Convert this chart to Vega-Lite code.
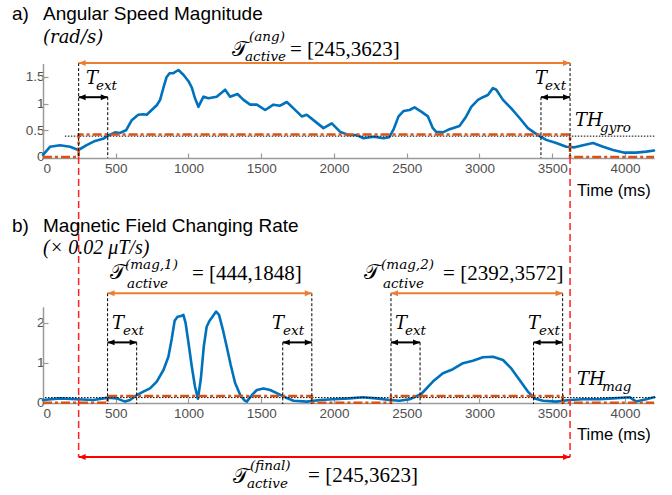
{
  "$schema": "https://vega.github.io/schema/vega-lite/v6.json",
  "width": 672,
  "height": 495,
  "autosize": "none",
  "padding": 0,
  "background": "white",
  "config": {
    "view": {"stroke": null},
    "axis": {"grid": false, "domainColor": "#9a9a9a", "tickColor": "#9a9a9a", "labelColor": "#505050", "labelFont": "Liberation Sans", "labelFontSize": 13.5, "domainWidth": 1.5, "tickWidth": 1.2}
  },
  "datasets": {
    "sigA": [
      {"t":0,"v":0.04},{"t":48,"v":0.19},{"t":117,"v":0.22},{"t":186,"v":0.19},{"t":243,"v":0.13},{"t":300,"v":0.22},{"t":358,"v":0.30},{"t":413,"v":0.34},{"t":454,"v":0.41},{"t":495,"v":0.46},{"t":530,"v":0.45},{"t":571,"v":0.50},{"t":610,"v":0.69},{"t":655,"v":0.79},{"t":690,"v":0.80},{"t":713,"v":0.79},{"t":747,"v":0.88},{"t":782,"v":0.97},{"t":805,"v":1.07},{"t":828,"v":1.30},{"t":850,"v":1.50},{"t":870,"v":1.57},{"t":896,"v":1.57},{"t":931,"v":1.63},{"t":965,"v":1.54},{"t":1000,"v":1.42},{"t":1023,"v":1.30},{"t":1045,"v":1.10},{"t":1068,"v":0.94},{"t":1103,"v":1.13},{"t":1137,"v":1.10},{"t":1194,"v":1.13},{"t":1252,"v":1.26},{"t":1286,"v":1.13},{"t":1337,"v":1.18},{"t":1378,"v":1.07},{"t":1424,"v":0.98},{"t":1470,"v":0.98},{"t":1527,"v":0.88},{"t":1584,"v":0.98},{"t":1630,"v":0.96},{"t":1676,"v":1.03},{"t":1722,"v":0.91},{"t":1779,"v":0.76},{"t":1813,"v":0.79},{"t":1859,"v":0.69},{"t":1928,"v":0.54},{"t":1985,"v":0.63},{"t":2043,"v":0.47},{"t":2100,"v":0.41},{"t":2158,"v":0.41},{"t":2203,"v":0.35},{"t":2272,"v":0.38},{"t":2340,"v":0.35},{"t":2380,"v":0.37},{"t":2409,"v":0.51},{"t":2444,"v":0.76},{"t":2478,"v":0.86},{"t":2520,"v":0.88},{"t":2554,"v":0.93},{"t":2600,"v":0.85},{"t":2646,"v":0.76},{"t":2680,"v":0.54},{"t":2703,"v":0.47},{"t":2749,"v":0.46},{"t":2795,"v":0.52},{"t":2863,"v":0.58},{"t":2909,"v":0.76},{"t":2944,"v":0.94},{"t":2990,"v":1.07},{"t":3024,"v":1.12},{"t":3058,"v":1.16},{"t":3093,"v":1.29},{"t":3116,"v":1.26},{"t":3162,"v":1.07},{"t":3219,"v":0.91},{"t":3276,"v":0.73},{"t":3333,"v":0.54},{"t":3402,"v":0.41},{"t":3459,"v":0.32},{"t":3528,"v":0.26},{"t":3597,"v":0.19},{"t":3654,"v":0.18},{"t":3712,"v":0.22},{"t":3781,"v":0.26},{"t":3850,"v":0.19},{"t":3918,"v":0.13},{"t":3998,"v":0.08},{"t":4078,"v":0.08},{"t":4147,"v":0.10},{"t":4200,"v":0.12}
    ],
    "sigB": [
      {"t":0,"v":0.07},{"t":117,"v":0.11},{"t":232,"v":0.09},{"t":346,"v":0.07},{"t":449,"v":0.13},{"t":507,"v":0.11},{"t":564,"v":0.03},{"t":598,"v":0.07},{"t":644,"v":0.19},{"t":690,"v":0.28},{"t":736,"v":0.36},{"t":782,"v":0.53},{"t":828,"v":0.82},{"t":862,"v":1.15},{"t":885,"v":1.6},{"t":905,"v":2.05},{"t":925,"v":2.15},{"t":950,"v":2.17},{"t":965,"v":2.2},{"t":980,"v":2.0},{"t":1000,"v":1.5},{"t":1023,"v":0.9},{"t":1045,"v":0.4},{"t":1065,"v":0.1},{"t":1085,"v":0.6},{"t":1105,"v":1.4},{"t":1125,"v":1.9},{"t":1145,"v":2.05},{"t":1165,"v":2.15},{"t":1190,"v":2.28},{"t":1210,"v":2.2},{"t":1235,"v":1.85},{"t":1260,"v":1.45},{"t":1290,"v":0.95},{"t":1320,"v":0.5},{"t":1355,"v":0.2},{"t":1385,"v":0.06},{"t":1401,"v":0.03},{"t":1435,"v":0.19},{"t":1470,"v":0.32},{"t":1515,"v":0.36},{"t":1561,"v":0.32},{"t":1607,"v":0.24},{"t":1664,"v":0.14},{"t":1722,"v":0.05},{"t":1813,"v":0.03},{"t":1905,"v":0.07},{"t":1995,"v":0.09},{"t":2107,"v":0.11},{"t":2199,"v":0.14},{"t":2290,"v":0.11},{"t":2382,"v":0.07},{"t":2451,"v":0.05},{"t":2520,"v":0.09},{"t":2600,"v":0.22},{"t":2680,"v":0.53},{"t":2749,"v":0.74},{"t":2818,"v":0.84},{"t":2887,"v":0.99},{"t":2955,"v":1.05},{"t":3024,"v":1.14},{"t":3093,"v":1.15},{"t":3162,"v":1.07},{"t":3219,"v":0.86},{"t":3276,"v":0.57},{"t":3333,"v":0.28},{"t":3379,"v":0.11},{"t":3437,"v":0.05},{"t":3528,"v":0.03},{"t":3620,"v":0.07},{"t":3712,"v":0.09},{"t":3826,"v":0.09},{"t":3918,"v":0.11},{"t":4032,"v":0.14},{"t":4078,"v":0.03},{"t":4147,"v":0.09},{"t":4200,"v":0.14}
    ],
    "stepA": [{"t":0,"v":0},{"t":245,"v":0.42},{"t":3623,"v":0},{"t":4200,"v":0}],
    "stepB": [{"t":0,"v":0},{"t":444,"v":0.17},{"t":1848,"v":0},{"t":2392,"v":0.17},{"t":3572,"v":0},{"t":4200,"v":0}],
    "thrA": [{"t":150,"t2":4210,"v":0.39}],
    "thrB": [{"t":14,"t2":4210,"v":0.13}],
    "arrA": [
      {"t":245,"t2":3623,"v":1.76,"kind":"active"},
      {"t":245,"t2":445,"v":1.12,"kind":"ext"},
      {"t":3423,"t2":3623,"v":1.12,"kind":"ext"}
    ],
    "arrB": [
      {"t":444,"t2":1848,"v":2.74,"kind":"active"},
      {"t":2392,"t2":3572,"v":2.74,"kind":"active"},
      {"t":444,"t2":644,"v":1.51,"kind":"ext"},
      {"t":1648,"t2":1848,"v":1.51,"kind":"ext"},
      {"t":2392,"t2":2592,"v":1.51,"kind":"ext"},
      {"t":3372,"t2":3572,"v":1.51,"kind":"ext"},
      {"t":245,"t2":3623,"v":-1.355,"kind":"final"}
    ],
    "vA": [
      {"t":245,"v":1.76,"v2":-0.02},{"t":445,"v":1.12,"v2":-0.02},{"t":3423,"v":1.12,"v2":-0.02},{"t":3623,"v":1.76,"v2":-0.02}
    ],
    "vB": [
      {"t":444,"v":2.74,"v2":-0.03},{"t":1848,"v":2.74,"v2":-0.03},{"t":644,"v":1.51,"v2":-0.03},{"t":1648,"v":1.51,"v2":-0.03},
      {"t":2392,"v":2.74,"v2":-0.03},{"t":3572,"v":2.74,"v2":-0.03},{"t":2592,"v":1.51,"v2":-0.03},{"t":3372,"v":1.51,"v2":-0.03}
    ],
    "redB": [{"t":245,"v":6.145,"v2":-1.355},{"t":3623,"v":6.145,"v2":-1.355}],
    "textA": [
      {"k":"title","t":-213,"v":2.68,"s":"a)"},
      {"k":"title","t":0,"v":2.68,"s":"Angular Speed Magnitude"},
      {"k":"unit","t":0,"v":2.23,"s":"(rad/s)"},
      {"k":"time","t":3671,"v":-0.63,"s":"Time (ms)"},
      {"k":"script","t":1299,"v":2.01,"s":"𝒯"},
      {"k":"small","t":1416,"v":2.25,"s":"(ang)"},
      {"k":"small","t":1389,"v":1.87,"s":"active"},
      {"k":"rest","t":1698,"v":2.005,"s":"= [245,3623]"},
      {"k":"big","t":296,"v":1.461,"s":"T"},
      {"k":"small","t":364,"v":1.33,"s":"ext"},
      {"k":"big","t":3382,"v":1.461,"s":"T"},
      {"k":"small","t":3451,"v":1.33,"s":"ext"},
      {"k":"big","t":3657,"v":0.674,"s":"TH"},
      {"k":"small","t":3829,"v":0.5425,"s":"gyro"}
    ],
    "textB": [
      {"k":"title","t":-213,"v":4.42,"s":"b)"},
      {"k":"title","t":0,"v":4.42,"s":"Magnetic Field Changing Rate"},
      {"k":"unit2","t":0,"v":3.87,"s":"(× 0.02 μT/s)"},
      {"k":"time","t":3671,"v":-0.8,"s":"Time (ms)"},
      {"k":"script","t":461,"v":3.245,"s":"𝒯"},
      {"k":"small","t":564,"v":3.445,"s":"(mag,1)"},
      {"k":"small","t":578,"v":2.96,"s":"active"},
      {"k":"rest","t":1024,"v":3.22,"s":"= [444,1848]"},
      {"k":"script","t":2207,"v":3.245,"s":"𝒯"},
      {"k":"small","t":2324,"v":3.445,"s":"(mag,2)"},
      {"k":"small","t":2337,"v":2.96,"s":"active"},
      {"k":"rest","t":2750,"v":3.22,"s":"= [2392,3572]"},
      {"k":"script","t":1306,"v":-1.855,"s":"𝒯"},
      {"k":"small","t":1423,"v":-1.58,"s":"(final)"},
      {"k":"small","t":1402,"v":-2.04,"s":"active"},
      {"k":"rest","t":1822,"v":-1.83,"s":"= [245,3623]"},
      {"k":"big","t":474,"v":1.97,"s":"T"},
      {"k":"small","t":550,"v":1.795,"s":"ext"},
      {"k":"big","t":1574,"v":1.97,"s":"T"},
      {"k":"small","t":1650,"v":1.795,"s":"ext"},
      {"k":"big","t":2420,"v":1.97,"s":"T"},
      {"k":"small","t":2488,"v":1.795,"s":"ext"},
      {"k":"big","t":3334,"v":1.97,"s":"T"},
      {"k":"small","t":3409,"v":1.795,"s":"ext"},
      {"k":"big","t":3671,"v":0.57,"s":"TH"},
      {"k":"small","t":3842,"v":0.395,"s":"mag"}
    ]
  },
  "layer": [
    {
      "data": {"name": "sigA"},
      "mark": {"type": "line", "color": "#0072BD", "strokeWidth": 2.6, "strokeJoin": "round", "strokeCap": "round"},
      "encoding": {
        "x": {"field": "t", "type": "quantitative", "scale": {"domain": [0, 4200], "range": [43, 654], "nice": false, "zero": false},
          "axis": {"orient": "bottom", "offset": -337, "values": [0,500,1000,1500,2000,2500,3000,3500,4000], "format": "d", "title": null, "tickSize": -5, "labelPadding": 8}},
        "y": {"field": "v", "type": "quantitative", "scale": {"domain": [-0.02, 1.75], "range": [158, 63.6], "nice": false, "zero": false},
          "axis": {"orient": "left", "offset": -43, "values": [0, 0.5, 1, 1.5], "format": "~g", "title": null, "tickSize": -5, "labelPadding": 4}}
      }
    },
    {
      "data": {"name": "sigB"},
      "mark": {"type": "line", "color": "#0072BD", "strokeWidth": 2.6, "strokeJoin": "round", "strokeCap": "round"},
      "encoding": {
        "x": {"field": "t", "type": "quantitative", "scale": {"domain": [0, 4200], "range": [43, 654], "nice": false, "zero": false},
          "axis": {"orient": "bottom", "offset": -92, "values": [0,500,1000,1500,2000,2500,3000,3500,4000], "format": "d", "title": null, "tickSize": -5, "labelPadding": 8}},
        "y": {"field": "v", "type": "quantitative", "scale": {"domain": [-0.03, 2.4], "range": [404, 306.8], "nice": false, "zero": false},
          "axis": {"orient": "left", "offset": -43, "values": [0, 1, 2], "format": "~g", "title": null, "tickSize": -5, "labelPadding": 4}}
      }
    },
    {
      "data": {"name": "thrA"},
      "mark": {"type": "rule", "color": "black", "strokeWidth": 1, "strokeDash": [1.5, 1.5]},
      "encoding": {
        "x": {"field": "t", "type": "quantitative", "scale": {"domain": [0, 4200], "range": [43, 654], "nice": false, "zero": false}, "axis": null},
        "x2": {"field": "t2"},
        "y": {"field": "v", "type": "quantitative", "scale": {"domain": [-0.02, 1.75], "range": [158, 63.6], "nice": false, "zero": false}, "axis": null}
      }
    },
    {
      "data": {"name": "thrB"},
      "mark": {"type": "rule", "color": "black", "strokeWidth": 1, "strokeDash": [1.5, 1.5]},
      "encoding": {
        "x": {"field": "t", "type": "quantitative", "scale": {"domain": [0, 4200], "range": [43, 654], "nice": false, "zero": false}, "axis": null},
        "x2": {"field": "t2"},
        "y": {"field": "v", "type": "quantitative", "scale": {"domain": [-0.03, 2.4], "range": [404, 306.8], "nice": false, "zero": false}, "axis": null}
      }
    },
    {
      "data": {"name": "stepA"},
      "mark": {"type": "line", "interpolate": "step-after", "color": "#D95319", "strokeWidth": 2.6, "strokeDash": [9, 3, 3, 3]},
      "encoding": {
        "x": {"field": "t", "type": "quantitative", "scale": {"domain": [0, 4200], "range": [43, 654], "nice": false, "zero": false}, "axis": null},
        "y": {"field": "v", "type": "quantitative", "scale": {"domain": [-0.02, 1.75], "range": [158, 63.6], "nice": false, "zero": false}, "axis": null}
      }
    },
    {
      "data": {"name": "stepB"},
      "mark": {"type": "line", "interpolate": "step-after", "color": "#D95319", "strokeWidth": 2.6, "strokeDash": [9, 3, 3, 3]},
      "encoding": {
        "x": {"field": "t", "type": "quantitative", "scale": {"domain": [0, 4200], "range": [43, 654], "nice": false, "zero": false}, "axis": null},
        "y": {"field": "v", "type": "quantitative", "scale": {"domain": [-0.03, 2.4], "range": [404, 306.8], "nice": false, "zero": false}, "axis": null}
      }
    },
    {
      "data": {"name": "vA"},
      "mark": {"type": "rule", "color": "black", "strokeWidth": 1, "strokeDash": [3, 2]},
      "encoding": {
        "x": {"field": "t", "type": "quantitative", "scale": {"domain": [0, 4200], "range": [43, 654], "nice": false, "zero": false}, "axis": null},
        "y": {"field": "v", "type": "quantitative", "scale": {"domain": [-0.02, 1.75], "range": [158, 63.6], "nice": false, "zero": false}, "axis": null},
        "y2": {"field": "v2"}
      }
    },
    {
      "data": {"name": "vB"},
      "mark": {"type": "rule", "color": "black", "strokeWidth": 1, "strokeDash": [3, 2]},
      "encoding": {
        "x": {"field": "t", "type": "quantitative", "scale": {"domain": [0, 4200], "range": [43, 654], "nice": false, "zero": false}, "axis": null},
        "y": {"field": "v", "type": "quantitative", "scale": {"domain": [-0.03, 2.4], "range": [404, 306.8], "nice": false, "zero": false}, "axis": null},
        "y2": {"field": "v2"}
      }
    },
    {
      "data": {"name": "redB"},
      "mark": {"type": "rule", "color": "#FF2020", "strokeWidth": 1.5, "strokeDash": [7, 4]},
      "encoding": {
        "x": {"field": "t", "type": "quantitative", "scale": {"domain": [0, 4200], "range": [43, 654], "nice": false, "zero": false}, "axis": null},
        "y": {"field": "v", "type": "quantitative", "scale": {"domain": [-0.03, 2.4], "range": [404, 306.8], "nice": false, "zero": false}, "axis": null},
        "y2": {"field": "v2"}
      }
    },
    {
      "data": {"name": "arrA"},
      "mark": {"type": "rule", "strokeWidth": 2},
      "encoding": {
        "x": {"field": "t", "type": "quantitative", "scale": {"domain": [0, 4200], "range": [43, 654], "nice": false, "zero": false}, "axis": null},
        "x2": {"field": "t2"},
        "y": {"field": "v", "type": "quantitative", "scale": {"domain": [-0.02, 1.75], "range": [158, 63.6], "nice": false, "zero": false}, "axis": null},
        "color": {"field": "kind", "type": "nominal", "scale": {"domain": ["ext", "active", "final"], "range": ["#000000", "#ED7D31", "#FF0000"]}, "legend": null}
      }
    },
    {
      "data": {"name": "arrB"},
      "mark": {"type": "rule", "strokeWidth": 2},
      "encoding": {
        "x": {"field": "t", "type": "quantitative", "scale": {"domain": [0, 4200], "range": [43, 654], "nice": false, "zero": false}, "axis": null},
        "x2": {"field": "t2"},
        "y": {"field": "v", "type": "quantitative", "scale": {"domain": [-0.03, 2.4], "range": [404, 306.8], "nice": false, "zero": false}, "axis": null},
        "color": {"field": "kind", "type": "nominal", "scale": {"domain": ["ext", "active", "final"], "range": ["#000000", "#ED7D31", "#FF0000"]}, "legend": null}
      }
    },
    {
      "data": {"name": "arrA"},
      "transform": [{"fold": ["t", "t2"], "as": ["end", "tx"]}],
      "mark": {"type": "point", "filled": true, "opacity": 1, "size": 49, "strokeWidth": 0},
      "encoding": {
        "x": {"field": "tx", "type": "quantitative", "scale": {"domain": [0, 4200], "range": [43, 654], "nice": false, "zero": false}, "axis": null},
        "y": {"field": "v", "type": "quantitative", "scale": {"domain": [-0.02, 1.75], "range": [158, 63.6], "nice": false, "zero": false}, "axis": null},
        "shape": {"field": "end", "type": "nominal", "scale": {"domain": ["t", "t2"], "range": ["M0,0L2,-0.85L2,0.85Z", "M0,0L-2,-0.85L-2,0.85Z"]}, "legend": null},
        "color": {"field": "kind", "type": "nominal", "scale": {"domain": ["ext", "active", "final"], "range": ["#000000", "#ED7D31", "#FF0000"]}, "legend": null}
      }
    },
    {
      "data": {"name": "arrB"},
      "transform": [{"fold": ["t", "t2"], "as": ["end", "tx"]}],
      "mark": {"type": "point", "filled": true, "opacity": 1, "size": 49, "strokeWidth": 0},
      "encoding": {
        "x": {"field": "tx", "type": "quantitative", "scale": {"domain": [0, 4200], "range": [43, 654], "nice": false, "zero": false}, "axis": null},
        "y": {"field": "v", "type": "quantitative", "scale": {"domain": [-0.03, 2.4], "range": [404, 306.8], "nice": false, "zero": false}, "axis": null},
        "shape": {"field": "end", "type": "nominal", "scale": {"domain": ["t", "t2"], "range": ["M0,0L2,-0.85L2,0.85Z", "M0,0L-2,-0.85L-2,0.85Z"]}, "legend": null},
        "color": {"field": "kind", "type": "nominal", "scale": {"domain": ["ext", "active", "final"], "range": ["#000000", "#ED7D31", "#FF0000"]}, "legend": null}
      }
    },
    {
      "data": {"name": "textA"},
      "transform": [{"filter": "datum.k === 'title'"}],
      "mark": {"type": "text", "align": "left", "baseline": "middle", "font": "Liberation Sans", "fontSize": 19, "color": "black"},
      "encoding": {
        "x": {"field": "t", "type": "quantitative", "scale": {"domain": [0, 4200], "range": [43, 654], "nice": false, "zero": false}, "axis": null},
        "y": {"field": "v", "type": "quantitative", "scale": {"domain": [-0.02, 1.75], "range": [158, 63.6], "nice": false, "zero": false}, "axis": null},
        "text": {"field": "s"}
      }
    },
    {
      "data": {"name": "textA"},
      "transform": [{"filter": "datum.k === 'time'"}],
      "mark": {"type": "text", "align": "left", "baseline": "middle", "font": "Liberation Sans", "fontSize": 16.5, "color": "black"},
      "encoding": {
        "x": {"field": "t", "type": "quantitative", "scale": {"domain": [0, 4200], "range": [43, 654], "nice": false, "zero": false}, "axis": null},
        "y": {"field": "v", "type": "quantitative", "scale": {"domain": [-0.02, 1.75], "range": [158, 63.6], "nice": false, "zero": false}, "axis": null},
        "text": {"field": "s"}
      }
    },
    {
      "data": {"name": "textA"},
      "transform": [{"filter": "datum.k === 'unit' || datum.k === 'big'"}],
      "mark": {"type": "text", "align": "left", "baseline": "middle", "font": "DejaVu Serif", "fontStyle": "italic", "fontSize": 18, "color": "black"},
      "encoding": {
        "x": {"field": "t", "type": "quantitative", "scale": {"domain": [0, 4200], "range": [43, 654], "nice": false, "zero": false}, "axis": null},
        "y": {"field": "v", "type": "quantitative", "scale": {"domain": [-0.02, 1.75], "range": [158, 63.6], "nice": false, "zero": false}, "axis": null},
        "text": {"field": "s"}
      }
    },
    {
      "data": {"name": "textA"},
      "transform": [{"filter": "datum.k === 'small'"}],
      "mark": {"type": "text", "align": "left", "baseline": "middle", "font": "DejaVu Serif", "fontStyle": "italic", "fontSize": 13.5, "color": "black"},
      "encoding": {
        "x": {"field": "t", "type": "quantitative", "scale": {"domain": [0, 4200], "range": [43, 654], "nice": false, "zero": false}, "axis": null},
        "y": {"field": "v", "type": "quantitative", "scale": {"domain": [-0.02, 1.75], "range": [158, 63.6], "nice": false, "zero": false}, "axis": null},
        "text": {"field": "s"}
      }
    },
    {
      "data": {"name": "textA"},
      "transform": [{"filter": "datum.k === 'script'"}],
      "mark": {"type": "text", "align": "left", "baseline": "middle", "font": "DejaVu Serif", "fontSize": 21, "color": "black"},
      "encoding": {
        "x": {"field": "t", "type": "quantitative", "scale": {"domain": [0, 4200], "range": [43, 654], "nice": false, "zero": false}, "axis": null},
        "y": {"field": "v", "type": "quantitative", "scale": {"domain": [-0.02, 1.75], "range": [158, 63.6], "nice": false, "zero": false}, "axis": null},
        "text": {"field": "s"}
      }
    },
    {
      "data": {"name": "textA"},
      "transform": [{"filter": "datum.k === 'rest'"}],
      "mark": {"type": "text", "align": "left", "baseline": "middle", "font": "Liberation Serif", "fontSize": 21, "color": "black"},
      "encoding": {
        "x": {"field": "t", "type": "quantitative", "scale": {"domain": [0, 4200], "range": [43, 654], "nice": false, "zero": false}, "axis": null},
        "y": {"field": "v", "type": "quantitative", "scale": {"domain": [-0.02, 1.75], "range": [158, 63.6], "nice": false, "zero": false}, "axis": null},
        "text": {"field": "s"}
      }
    },
    {
      "data": {"name": "textB"},
      "transform": [{"filter": "datum.k === 'title'"}],
      "mark": {"type": "text", "align": "left", "baseline": "middle", "font": "Liberation Sans", "fontSize": 19, "color": "black"},
      "encoding": {
        "x": {"field": "t", "type": "quantitative", "scale": {"domain": [0, 4200], "range": [43, 654], "nice": false, "zero": false}, "axis": null},
        "y": {"field": "v", "type": "quantitative", "scale": {"domain": [-0.03, 2.4], "range": [404, 306.8], "nice": false, "zero": false}, "axis": null},
        "text": {"field": "s"}
      }
    },
    {
      "data": {"name": "textB"},
      "transform": [{"filter": "datum.k === 'time'"}],
      "mark": {"type": "text", "align": "left", "baseline": "middle", "font": "Liberation Sans", "fontSize": 16.5, "color": "black"},
      "encoding": {
        "x": {"field": "t", "type": "quantitative", "scale": {"domain": [0, 4200], "range": [43, 654], "nice": false, "zero": false}, "axis": null},
        "y": {"field": "v", "type": "quantitative", "scale": {"domain": [-0.03, 2.4], "range": [404, 306.8], "nice": false, "zero": false}, "axis": null},
        "text": {"field": "s"}
      }
    },
    {
      "data": {"name": "textB"},
      "transform": [{"filter": "datum.k === 'big'"}],
      "mark": {"type": "text", "align": "left", "baseline": "middle", "font": "DejaVu Serif", "fontStyle": "italic", "fontSize": 18, "color": "black"},
      "encoding": {
        "x": {"field": "t", "type": "quantitative", "scale": {"domain": [0, 4200], "range": [43, 654], "nice": false, "zero": false}, "axis": null},
        "y": {"field": "v", "type": "quantitative", "scale": {"domain": [-0.03, 2.4], "range": [404, 306.8], "nice": false, "zero": false}, "axis": null},
        "text": {"field": "s"}
      }
    },
    {
      "data": {"name": "textB"},
      "transform": [{"filter": "datum.k === 'unit2'"}],
      "mark": {"type": "text", "align": "left", "baseline": "middle", "font": "Liberation Serif", "fontStyle": "italic", "fontSize": 20, "color": "black"},
      "encoding": {
        "x": {"field": "t", "type": "quantitative", "scale": {"domain": [0, 4200], "range": [43, 654], "nice": false, "zero": false}, "axis": null},
        "y": {"field": "v", "type": "quantitative", "scale": {"domain": [-0.03, 2.4], "range": [404, 306.8], "nice": false, "zero": false}, "axis": null},
        "text": {"field": "s"}
      }
    },
    {
      "data": {"name": "textB"},
      "transform": [{"filter": "datum.k === 'small'"}],
      "mark": {"type": "text", "align": "left", "baseline": "middle", "font": "DejaVu Serif", "fontStyle": "italic", "fontSize": 13.5, "color": "black"},
      "encoding": {
        "x": {"field": "t", "type": "quantitative", "scale": {"domain": [0, 4200], "range": [43, 654], "nice": false, "zero": false}, "axis": null},
        "y": {"field": "v", "type": "quantitative", "scale": {"domain": [-0.03, 2.4], "range": [404, 306.8], "nice": false, "zero": false}, "axis": null},
        "text": {"field": "s"}
      }
    },
    {
      "data": {"name": "textB"},
      "transform": [{"filter": "datum.k === 'script'"}],
      "mark": {"type": "text", "align": "left", "baseline": "middle", "font": "DejaVu Serif", "fontSize": 21, "color": "black"},
      "encoding": {
        "x": {"field": "t", "type": "quantitative", "scale": {"domain": [0, 4200], "range": [43, 654], "nice": false, "zero": false}, "axis": null},
        "y": {"field": "v", "type": "quantitative", "scale": {"domain": [-0.03, 2.4], "range": [404, 306.8], "nice": false, "zero": false}, "axis": null},
        "text": {"field": "s"}
      }
    },
    {
      "data": {"name": "textB"},
      "transform": [{"filter": "datum.k === 'rest'"}],
      "mark": {"type": "text", "align": "left", "baseline": "middle", "font": "Liberation Serif", "fontSize": 21, "color": "black"},
      "encoding": {
        "x": {"field": "t", "type": "quantitative", "scale": {"domain": [0, 4200], "range": [43, 654], "nice": false, "zero": false}, "axis": null},
        "y": {"field": "v", "type": "quantitative", "scale": {"domain": [-0.03, 2.4], "range": [404, 306.8], "nice": false, "zero": false}, "axis": null},
        "text": {"field": "s"}
      }
    }
  ],
  "resolve": {
    "scale": {"x": "independent", "y": "independent"},
    "axis": {"x": "independent", "y": "independent"}
  }
}
